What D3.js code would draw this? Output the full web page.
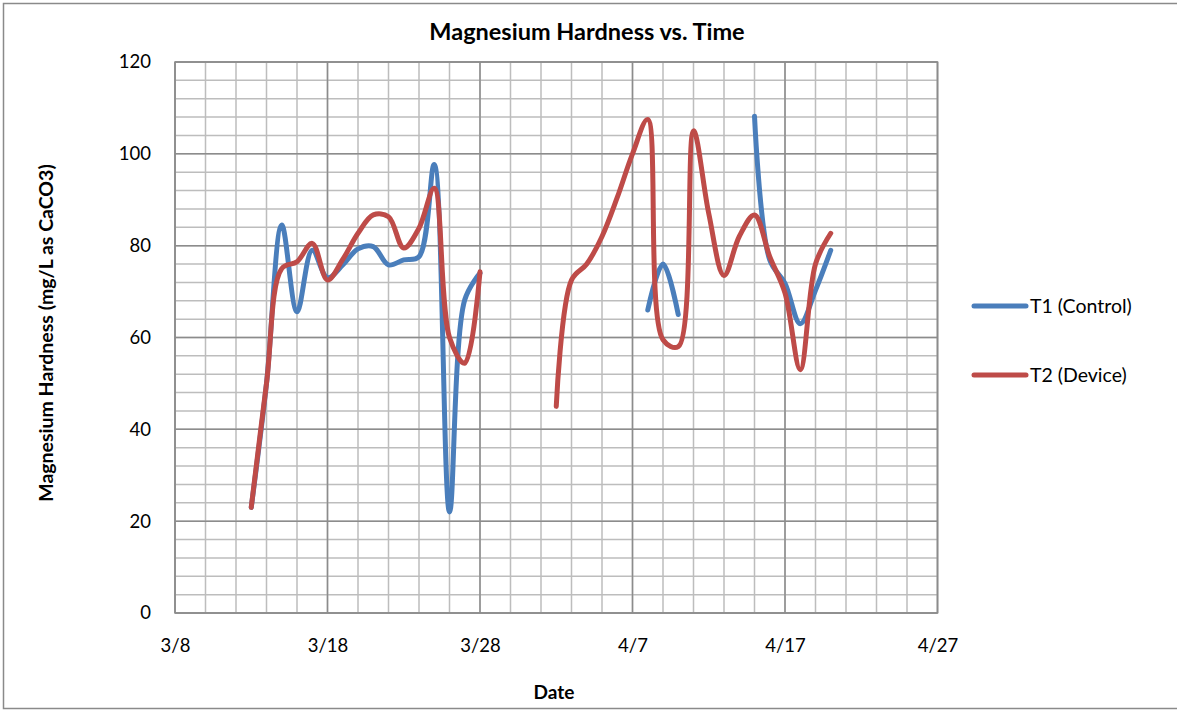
<!DOCTYPE html>
<html><head><meta charset="utf-8">
<script src="https://cdn.jsdelivr.net/npm/d3@7"></script>
<style>body{margin:0;background:#fff}svg{display:block}text{font-family:Lato,"Open Sans",sans-serif;fill:#000}</style>
</head><body><svg id="c" width="1177" height="710"></svg>
<script>
const dates = ["3/13","3/14","3/15","3/16","3/17","3/18","3/19","3/20","3/21","3/22","3/23","3/24","3/25","3/26","3/27","3/28","3/29","3/30","3/31","4/1","4/2","4/3","4/4","4/5","4/6","4/7","4/8","4/9","4/10","4/11","4/12","4/13","4/14","4/15","4/16","4/17","4/18","4/19","4/20"];
const t1 = [23,50,84.5,65.6,79,73,75.8,79.3,79.8,75.8,76.9,77.6,97.7,22,68.2,74,
  null,null,null,null,null,null,null,null,null,null,
  66,76,65,null,null,null,null,108.2,76.9,71.8,63,70.3,79];
const t2 = [23,50,75,76.5,80.5,72.5,77,82.7,86.7,86.3,79.5,83.8,92.5,60,54.4,74.3,
  null,null,null,null,
  45,72.5,76,82,90.5,100,107.5,59.5,58,105,87,73.5,82,86.7,77.6,69.7,53,76,82.7];
const seriesNames = ["T1 (Control)","T2 (Device)"];
const xTickLabels = ["3/8","3/18","3/28","4/7","4/17","4/27"];
const yTicks = [0,20,40,60,80,100,120];

const YEAR = 2013;
const FONT = "Lato, 'Open Sans', sans-serif";
const parse = s => { const [m,d] = s.split("/").map(Number); return new Date(YEAR, m-1, d); };
const svg = d3.select("#c");
const L=175, R=937.5, T=62, B=613;
const x0 = parse(xTickLabels[0]), x1 = parse(xTickLabels[xTickLabels.length-1]);
const x = d3.scaleTime().domain([x0, x1]).range([L,R]);
const y = d3.scaleLinear().domain([0,120]).range([B,T]);

svg.append("rect").attr("x",3.5).attr("y",3.5).attr("width",1177).attr("height",705)
  .attr("fill","none").attr("stroke","#8a8a8a").attr("stroke-width",1.5);

const g = svg.append("g");
const nDays = d3.timeDay.count(x0, x1);
const minorX = d3.range(0, nDays + 1, 2).map(k => d3.timeDay.offset(x0, k));
g.selectAll(".vx").data(minorX).join("line")
  .attr("x1",d=>x(d)).attr("x2",d=>x(d)).attr("y1",T).attr("y2",B)
  .attr("stroke","#bdbdbd").attr("stroke-width",1.5);
g.selectAll(".hy").data(d3.range(0,121,4)).join("line")
  .attr("x1",L).attr("x2",R).attr("y1",d=>y(d)).attr("y2",d=>y(d))
  .attr("stroke","#bdbdbd").attr("stroke-width",1.5);
g.selectAll(".mx").data(xTickLabels.map(parse)).join("line")
  .attr("x1",d=>x(d)).attr("x2",d=>x(d)).attr("y1",T).attr("y2",B)
  .attr("stroke","#8c8c8c").attr("stroke-width",1.5);
g.selectAll(".my").data(yTicks).join("line")
  .attr("x1",L).attr("x2",R).attr("y1",d=>y(d)).attr("y2",d=>y(d))
  .attr("stroke","#8c8c8c").attr("stroke-width",1.5);
g.append("rect").attr("x",L).attr("y",T).attr("width",R-L).attr("height",B-T)
  .attr("fill","none").attr("stroke","#8c8c8c").attr("stroke-width",1.5);

const yAxis = d3.axisLeft(y).tickValues(yTicks).tickSize(0).tickPadding(24);
const ya = svg.append("g").attr("transform",`translate(${L},0)`).call(yAxis);
ya.select(".domain").remove();
ya.selectAll("text").style("font-size","18.5px").style("font-family",FONT).attr("fill","#000");
const xAxis = d3.axisBottom(x).tickValues(xTickLabels.map(parse)).tickFormat(d3.timeFormat("%-m/%-d")).tickSize(0).tickPadding(26);
const xa = svg.append("g").attr("transform",`translate(0,${B})`).call(xAxis);
xa.select(".domain").remove();
xa.selectAll("text").style("font-size","18.5px").style("font-family",FONT).attr("fill","#000");

const colors = ["#4a7ebb","#be4b48"];
const line = d3.line().defined(d=>d.v!==null).x(d=>x(d.d)).y(d=>y(d.v)).curve(d3.curveCatmullRom.alpha(0.5));
[t1,t2].forEach((vals,i)=>{
  const data = dates.map((s,j)=>({d:parse(s), v:vals[j]}));
  svg.append("path").datum(data).attr("d",line).attr("fill","none")
    .attr("stroke",colors[i]).attr("stroke-width",5).attr("stroke-linecap","round").attr("stroke-linejoin","round");
});

svg.append("text").attr("x",587).attr("y",40).attr("text-anchor","middle")
  .style("font-size","23.5px").style("font-weight","bold").text("Magnesium Hardness vs. Time");
svg.append("text").attr("transform","translate(53,333) rotate(-90)").attr("text-anchor","middle")
  .style("font-size","19.5px").style("font-weight","bold").text("Magnesium Hardness (mg/L as CaCO3)");
svg.append("text").attr("x",554).attr("y",699).attr("text-anchor","middle")
  .style("font-size","19px").style("font-weight","bold").text("Date");

const ly = [306,375];
seriesNames.forEach((n,i)=>{
  svg.append("line").attr("x1",974).attr("x2",1026).attr("y1",ly[i]).attr("y2",ly[i])
    .attr("stroke",colors[i]).attr("stroke-width",5).attr("stroke-linecap","round");
  svg.append("text").attr("x",1030).attr("y",ly[i]+7).style("font-size","19.5px").text(n);
});
</script></body></html>
